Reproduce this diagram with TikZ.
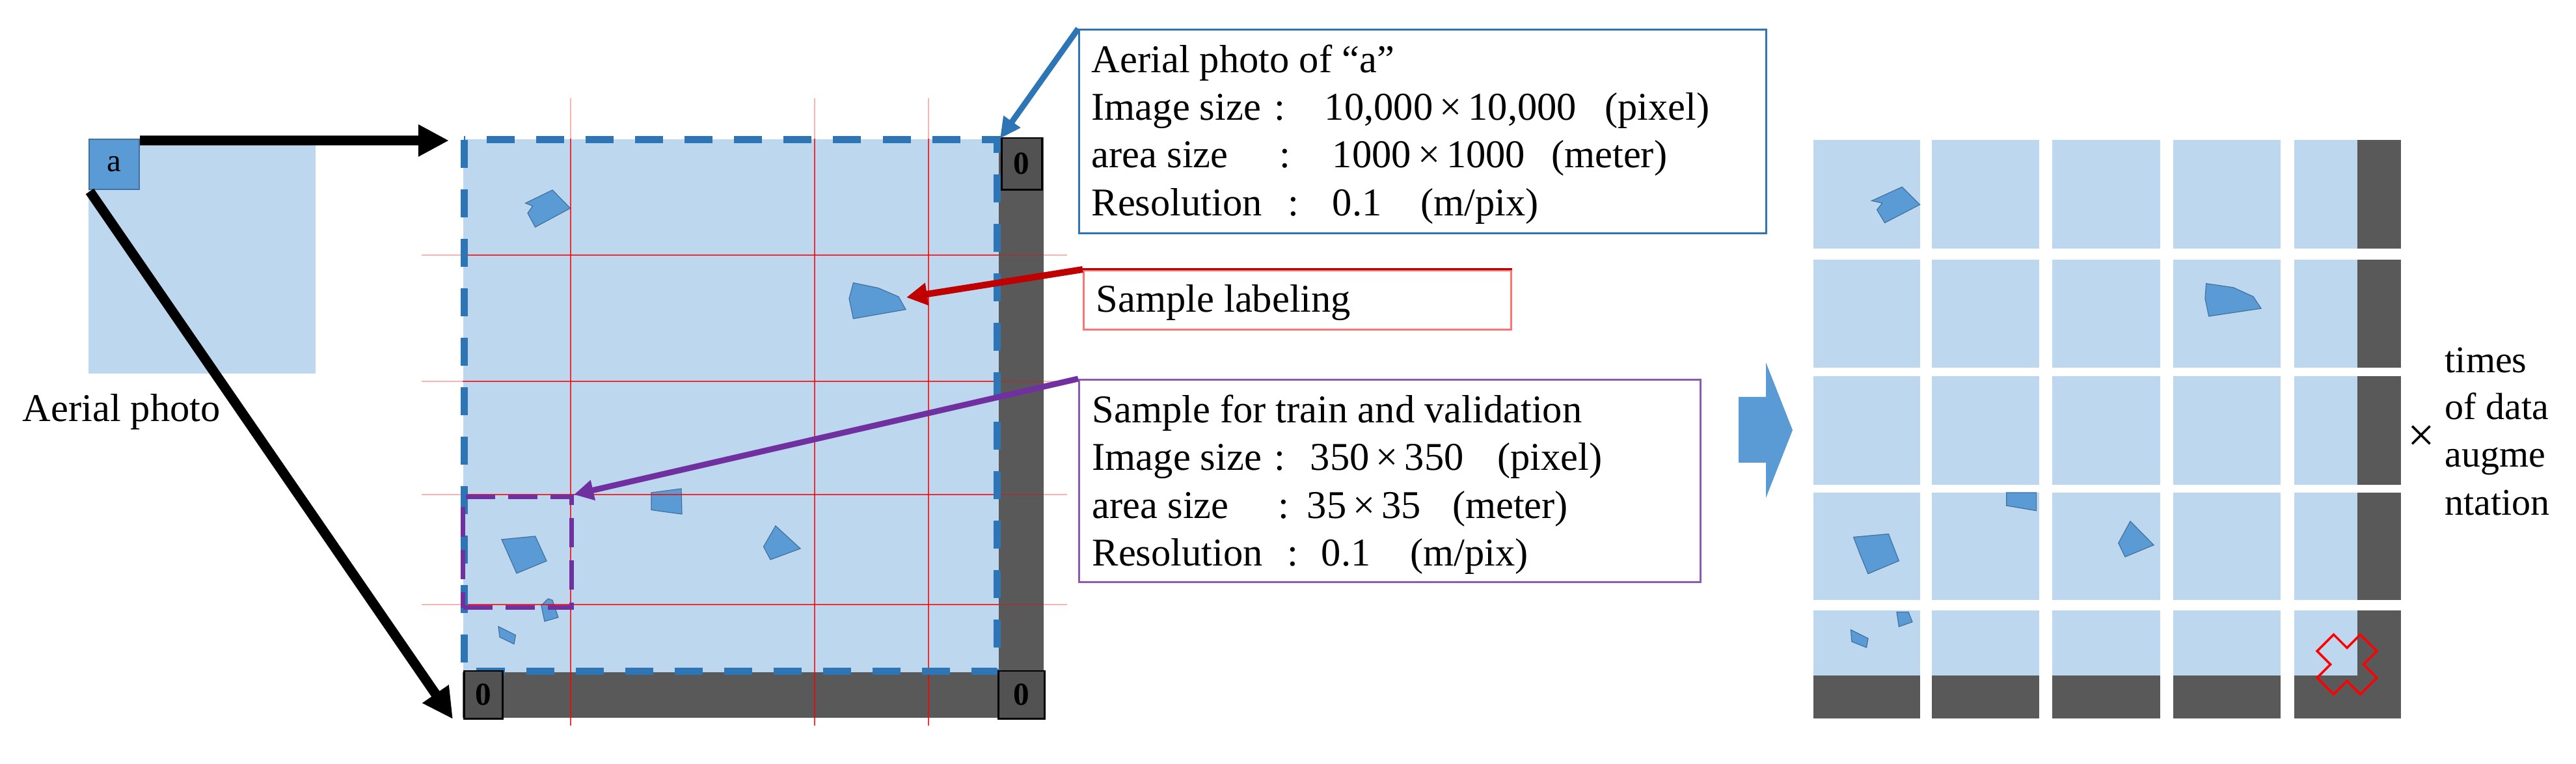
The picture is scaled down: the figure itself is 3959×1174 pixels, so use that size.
\documentclass[tikz,border=0pt]{standalone}
\usepackage{fontspec}
\setmainfont{Liberation Serif}
\newfontfamily\tnr{Liberation Serif}
\usetikzlibrary{arrows.meta}
\definecolor{lblue}{HTML}{BDD7EE}
\definecolor{mblue}{HTML}{5B9BD5}
\definecolor{bedge}{HTML}{41719C}
\definecolor{dgray}{HTML}{595959}
\definecolor{dblue}{HTML}{2E75B6}
\definecolor{purp}{HTML}{7030A0}
\definecolor{dred}{HTML}{C00000}
\newcommand\lseg[2]{\makebox[#1][l]{#2}}
\begin{document}
\begin{tikzpicture}[x=0.01cm,y=-0.01cm,
  txt/.style={font=\tnr\fontsize{17.2}{20.8}\selectfont, inner sep=0, anchor=base west},
  rtxt/.style={font=\tnr\fontsize{16.5}{20.8}\selectfont, inner sep=0, anchor=base west},
  bld/.style={fill=mblue, draw=bedge, line width=0.012cm},
  zerobox/.style={draw=black, fill=dgray!92!black, line width=0.025cm, inner sep=0, anchor=north west, font=\tnr\fontsize{14}{16}\selectfont\bfseries},
  gridl/.style={red, line width=0.022cm, opacity=0.8},
  gridf/.style={red, line width=0.022cm, opacity=0.3},
  bigarr/.style={line width=0.15cm, -{Triangle[length=0.47cm,width=0.46cm]}},
  blarr/.style={dblue, line width=0.09cm, -{Triangle[length=0.32cm,width=0.3cm]}},
  rdarr/.style={dred, line width=0.1cm, -{Triangle[length=0.32cm,width=0.33cm]}},
  pparr/.style={purp, line width=0.09cm, -{Triangle[length=0.3cm,width=0.3cm]}},
  tile/.style={fill=lblue},
]
\useasboundingbox (0,0) rectangle (3959,1174);

% ---------- left aerial photo ----------
\fill[lblue] (136,213) rectangle (485,574);
\node[draw=bedge, fill=mblue, minimum width=0.77cm, minimum height=0.77cm, inner sep=0,
      line width=0.02cm, font=\tnr\fontsize{14}{16}\selectfont, anchor=north west] (abox) at (136,213) {a};
\node[txt] (cap) at (34,648) {Aerial photo};

% ---------- main square ----------
\node[fill=lblue, minimum width=8.24cm, minimum height=8.20cm, inner sep=0, anchor=north west] (msq) at (711,213) {};
% buildings
\draw[bld] (807.5,312.2) -- (849,292) -- (876.5,320) -- (822.6,349) -- (811,327.5) -- (818.7,316.5) -- cycle;
\draw[bld] (1311.5,434.6) -- (1349.6,442.5) -- (1381,456) -- (1392,475.6) -- (1311.5,489.7) -- (1305,459) -- cycle;
\draw[bld] (1001,757) -- (1047,751) -- (1048,790) -- (1018,786) -- (1001,783.5) -- cycle;
\draw[bld] (1192,808) -- (1230,843) -- (1184,860) -- (1173.5,840) -- cycle;
\draw[bld] (771,829) -- (822.6,824) -- (840,862) -- (794,881) -- cycle;
\draw[bld] (842.4,920) -- (849,922.3) -- (858,948.7) -- (837,954.8) -- (831.8,930.3) -- cycle;
\draw[bld] (766,962.7) -- (792.4,976) -- (790,989.7) -- (768,979) -- cycle;
% dark padding
\fill[dgray] (1535,211) rectangle (1604,1103);
\fill[dgray] (711,1033) rectangle (1604,1103);
% red grid
\foreach \gx in {877,1252,1427}{
  \draw[gridf] (\gx,151) -- (\gx,213);
  \draw[gridl] (\gx,213) -- (\gx,1115);
}
\foreach \gy in {392,586,760,929}{
  \draw[gridf] (648,\gy) -- (711,\gy);
  \draw[gridl] (711,\gy) -- (1535,\gy);
  \draw[gridf] (1535,\gy) -- (1640,\gy);
}
% dashed frame
\draw[dblue, line width=0.11cm, dash pattern=on 0.43cm off 0.33cm] (713,215) rectangle (1532,1032);
% zero boxes
\node[zerobox, minimum width=0.62cm, minimum height=0.79cm] (z1) at (1538,211) {0};
\node[zerobox, minimum width=0.59cm, minimum height=0.73cm] (z2) at (712,1030) {0};
\node[zerobox, minimum width=0.71cm, minimum height=0.73cm] (z3) at (1533,1030) {0};
% sample window
\node[draw=purp, line width=0.07cm, dash pattern=on 0.45cm off 0.2cm, minimum width=1.67cm, minimum height=1.70cm,
      inner sep=0, anchor=north west] (samp) at (708,760) {};

% ---------- arrows from small photo ----------
\coordinate (t1) at (690,216);
\coordinate (t2) at (696,1105);
\draw[bigarr] ([yshift=-0.03cm]abox.north east) -- (t1);
\draw[bigarr] ([xshift=0.02cm,yshift=-0.02cm]abox.south west) -- (t2);

% ---------- callout boxes ----------
\node[draw=dblue, line width=0.03cm, minimum width=10.55cm, minimum height=3.13cm, inner sep=0, anchor=north west] (bluebox) at (1657,44) {};
\node[txt] (b1) at (1677,112) {Aerial photo of “a”};
\node[txt] (b2) at (1677,185) {\lseg{2.81cm}{Image size}\lseg{0.77cm}{:}\lseg{4.30cm}{10,000\,×\,10,000}(pixel)};
\node[txt] (b3) at (1677,258) {\lseg{2.89cm}{area size}\lseg{0.81cm}{:}\lseg{3.36cm}{1000\,×\,1000}(meter)};
\node[txt] (b4) at (1677,332) {\lseg{3.02cm}{Resolution}\lseg{0.68cm}{:}\lseg{1.35cm}{0.1}(m/pix)};

\node[draw=red!55, line width=0.03cm, minimum width=6.57cm, minimum height=0.91cm, inner sep=0, anchor=north west] (redbox) at (1664,414) {};
\draw[dred, line width=0.03cm] (redbox.north west) -- (redbox.north east);
\node[txt] (r1) at (1684,480) {Sample labeling};

\node[draw=purp!80, line width=0.03cm, minimum width=9.54cm, minimum height=3.11cm, inner sep=0, anchor=north west] (purpbox) at (1657,582) {};
\node[txt] (p1) at (1678,650) {Sample for train and validation};
\node[txt] (p2) at (1678,723) {\lseg{2.80cm}{Image size}\lseg{0.55cm}{:}\lseg{2.87cm}{350\,×\,350}(pixel)};
\node[txt] (p3) at (1678,797) {\lseg{2.86cm}{area size}\lseg{0.44cm}{:}\lseg{2.23cm}{35\,×\,35}(meter)};
\node[txt] (p4) at (1678,870) {\lseg{3.00cm}{Resolution}\lseg{0.52cm}{:}\lseg{1.36cm}{0.1}(m/pix)};

% callout arrows
\coordinate (rt) at (1393,457);
\draw[blarr] (bluebox.north west) -- (msq.north east);
\draw[rdarr] (redbox.north west) -- (rt);
\draw[pparr] (purpbox.north west) -- (samp.north east);

% ---------- block arrow ----------
\fill[mblue] (2672,610) -- (2714,610) -- (2714,557) -- (2755,661) -- (2714,765) -- (2714,711) -- (2672,711) -- cycle;

% ---------- tiles ----------
\foreach \xa/\xb in {2787/2951, 2969/3134, 3154/3320, 3340/3505, 3526/3690}{
  \foreach \ya/\yb in {215/382, 399/565, 578/745, 757/922, 938/1104}{
    \fill[tile] (\xa,\ya) rectangle (\xb,\yb);
  }
}
\foreach \ya/\yb in {215/382, 399/565, 578/745, 757/922, 938/1104}{
  \fill[dgray] (3623,\ya) rectangle (3690,\yb);
}
\foreach \xa/\xb in {2787/2951, 2969/3134, 3154/3320, 3340/3505, 3526/3690}{
  \fill[dgray] (\xa,1038) rectangle (\xb,1104);
}
\draw[bld] (2876.7,308.5) -- (2923.2,287.3) -- (2950.5,314.5) -- (2896.7,342.4) -- (2884.7,322.4) -- (2892.7,312.1) -- cycle;
\draw[bld] (3390.6,435.7) -- (3432.3,441.8) -- (3462.9,455.7) -- (3475,474) -- (3394.6,486) -- (3389,458.8) -- cycle;
\draw[bld] (2848.6,825.4) -- (2902.4,820.5) -- (2918.4,861.8) -- (2871,881.7) -- (2859,852.7) -- cycle;
\draw[bld] (3083.8,757) -- (3129.6,757) -- (3129.6,784.8) -- (3083.8,777) -- cycle;
\draw[bld] (3274,801) -- (3310,837.5) -- (3266,855.7) -- (3255.7,834.5) -- cycle;
\draw[bld] (2915,940.5) -- (2933,940.5) -- (2939,955.7) -- (2918.4,963) -- cycle;
\draw[bld] (2844.5,967.8) -- (2871,981) -- (2868.6,995) -- (2846,986) -- cycle;
% red cross
\begin{scope}[shift={(3607,1021)}, rotate=45]
  \draw[red, line width=0.035cm] (18,18) -- (47,18) -- (47,-18) -- (18,-18) -- (18,-47) -- (-18,-47) -- (-18,-18)
     -- (-47,-18) -- (-47,18) -- (-18,18) -- (-18,47) -- (18,47) -- cycle;
\end{scope}

% ---------- right label ----------
\node[font=\tnr\fontsize{21}{24}\selectfont, inner sep=0] (xm) at (3721,674) {×};
\node[rtxt] (q1) at (3757,573) {times};
\node[rtxt] (q2) at (3757,645) {of data};
\node[rtxt] (q3) at (3757,718) {augme};
\node[rtxt] (q4) at (3757,792) {ntation};
\end{tikzpicture}
\end{document}
